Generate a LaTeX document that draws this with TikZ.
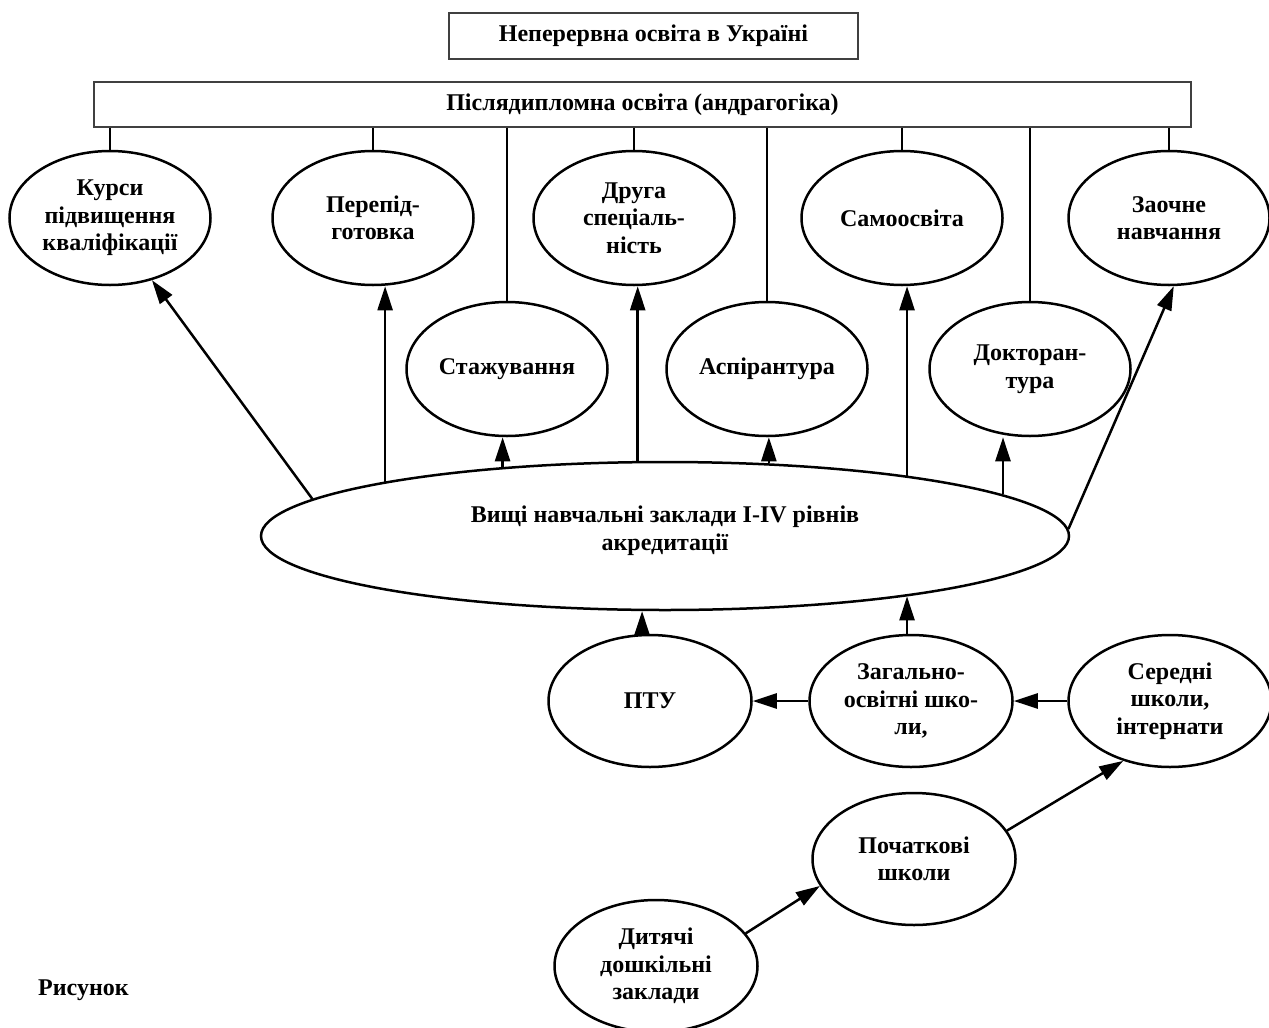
\documentclass[tikz,border=0pt]{standalone}
\usepackage{fontspec}
\setmainfont{Liberation Serif}
\usetikzlibrary{shapes.geometric,arrows.meta}
\begin{document}
\begin{tikzpicture}[x=1pt,y=-1pt,
  every node/.style={font=\bfseries\fontsize{24}{27.5}\selectfont, align=center, inner sep=0pt},
  hbox/.style={rectangle, draw=black!75, line width=1.3pt},
  ell/.style={ellipse, draw, line width=2.5pt, minimum width=201pt, minimum height=134pt},
  sell/.style={ell, minimum width=203pt, minimum height=132pt},
  link/.style={line width=2.4pt},
  arr/.style={line width=2.5pt, -{Triangle[length=24pt,width=15pt]}},
]
\useasboundingbox (0,0) rectangle (1269,1028);

% boxes
\node[hbox, minimum width=409pt, minimum height=46pt] (top) at (653.5,36) {Неперервна освіта в Україні};
\node[hbox, minimum width=1097pt, minimum height=45pt] (box2) at (642.5,104.5) {Післядипломна освіта (андрагогіка)};

% top row
\node[ell] (kursi) at (110,218) {Курси\\підвищення\\кваліфікації};
\node[ell] (perep) at (373,218) {Перепід-\\готовка};
\node[ell] (druga) at (634,218) {Друга\\спеціаль-\\ність};
\node[ell] (samo)  at (902,218) {Самоосвіта};
\node[ell] (zaoch) at (1169,218) {Заочне\\навчання};

% second row
\node[ell] (stazh) at (507,369) {Стажування};
\node[ell] (aspir) at (767,369) {Аспірантура};
\node[ell] (dokt)  at (1030,369) {Докторан-\\тура};

% big ellipse
\node[ell, minimum width=808pt, minimum height=148pt] (big) at (665,536) {Вищі навчальні заклади I-IV рівнів\\акредитації\\[-12pt]\mbox{}};

% bottom
\node[sell] (ptu)  at (650,701) {ПТУ};
\node[sell] (zag)  at (911,701) {Загально-\\освітні шко-\\ли,};
\node[sell] (ser)  at (1170,701) {Середні\\школи,\\інтернати};
\node[sell] (poch) at (914,859) {Початкові\\школи};
\node[sell] (dyt)  at (656,966) {Дитячі\\дошкільні\\заклади};

\node[anchor=base west] (fig) at (38,995) {Рисунок};

% links from box2
\foreach \n in {kursi,perep,druga,samo,zaoch,stazh,aspir,dokt}
  \draw[link] (\n.north |- box2.south) -- (\n.north);

% arrows from big ellipse
\draw[arr] (big.174) -- (kursi.-56);
\draw[arr] (big.169) -- (big.169 |- perep.south);
\draw[arr] (big.157) -- (big.157 |- stazh.south);
\draw[arr] (big.110) -- (big.110 |- druga.south);
\draw[arr] (big.35) -- (big.35 |- aspir.south);
\draw[arr] (big.14) -- (big.14 |- samo.south);
\draw[arr] (big.7) -- (big.7 |- dokt.south);
\draw[arr] (big.1) -- (zaoch.-86);

% arrows into big ellipse and among bottom nodes
\draw[arr] (big.-107 |- ptu.north) -- (big.-107);
\draw[arr] (big.-14 |- zag.north) -- (big.-14);
\draw[arr] (zag.west) -- (ptu.east);
\draw[arr] (ser.west) -- (zag.east);
\draw[arr] (poch.17) -- (ser.-128);
\draw[arr] (dyt.20) -- (poch.196);
\end{tikzpicture}
\end{document}
